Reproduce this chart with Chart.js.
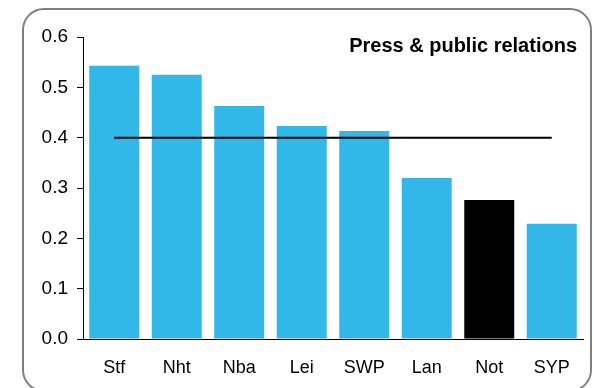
<!DOCTYPE html>
<html>
<head>
<meta charset="utf-8">
<script src="https://cdn.jsdelivr.net/npm/chart.js@4/dist/chart.umd.min.js"></script>
<style>
  html, body { margin: 0; padding: 0; background: #fff; }
  #wrap { position: relative; width: 594px; height: 388px; overflow: hidden; }
  #frame { position: absolute; left: 22px; top: 8px; width: 570px; height: 384px;
           border: 2px solid #808080; border-radius: 22px; box-sizing: border-box; }
  canvas { position: absolute; left: 0; top: 0; }
</style>
</head>
<body>
<div id="wrap">
  <div id="frame"></div>
  <canvas id="c" width="594" height="388"></canvas>
</div>
<script>
const categories = ["Stf", "Nht", "Nba", "Lei", "SWP", "Lan", "Not", "SYP"];
const values = [0.543, 0.525, 0.463, 0.423, 0.413, 0.320, 0.276, 0.229];
const benchmark = [0.4, 0.4, 0.4, 0.4, 0.4, 0.4, 0.4, 0.4];
const highlight = "Not";
const yTicks = [0, 0.1, 0.2, 0.3, 0.4, 0.5, 0.6];
const chartTitle = "Press & public relations";

const BLUE = "#32B8E8";
const barColors = categories.map(c => c === highlight ? "#000000" : BLUE);

const titlePlugin = {
  id: "cornerTitle",
  afterDraw(chart) {
    const ctx = chart.ctx;
    ctx.save();
    ctx.font = "bold 20px 'Liberation Sans', Arial, sans-serif";
    ctx.fillStyle = "#000";
    ctx.textAlign = "right";
    ctx.textBaseline = "middle";
    ctx.fillText(chartTitle, 577, 46);
    ctx.restore();
  }
};

new Chart(document.getElementById("c"), {
  data: {
    labels: categories,
    datasets: [
      { type: "line", data: benchmark, borderColor: "#000", borderWidth: 2,
        pointRadius: 0, fill: false, order: 0 },
      { type: "bar", data: values, backgroundColor: barColors,
        categoryPercentage: 0.8, barPercentage: 1.0, order: 1 }
    ]
  },
  options: {
    responsive: false,
    animation: false,
    layout: { padding: { top: 37, right: 11, left: 0, bottom: 0 } },
    plugins: { legend: { display: false }, tooltip: { enabled: false } },
    scales: {
      x: {
        grid: { display: false },
        border: { color: "#000", width: 1 },
        ticks: { color: "#000", padding: 10,
                 font: { family: "'Liberation Sans', Arial, sans-serif", size: 18 } },
        afterFit(s) { s.height = 49; }
      },
      y: {
        min: 0, max: 0.6,
        afterBuildTicks(s) { s.ticks = yTicks.map(v => ({ value: v })); },
        grid: { drawOnChartArea: false, tickLength: 6, color: "#000" },
        border: { color: "#000", width: 1 },
        ticks: { color: "#000", padding: 9,
                 font: { family: "'Liberation Sans', Arial, sans-serif", size: 19 },
                 callback: v => v.toFixed(1) },
        afterFit(s) { s.width = 83; }
      }
    }
  },
  plugins: [titlePlugin]
});
</script>
</body>
</html>
